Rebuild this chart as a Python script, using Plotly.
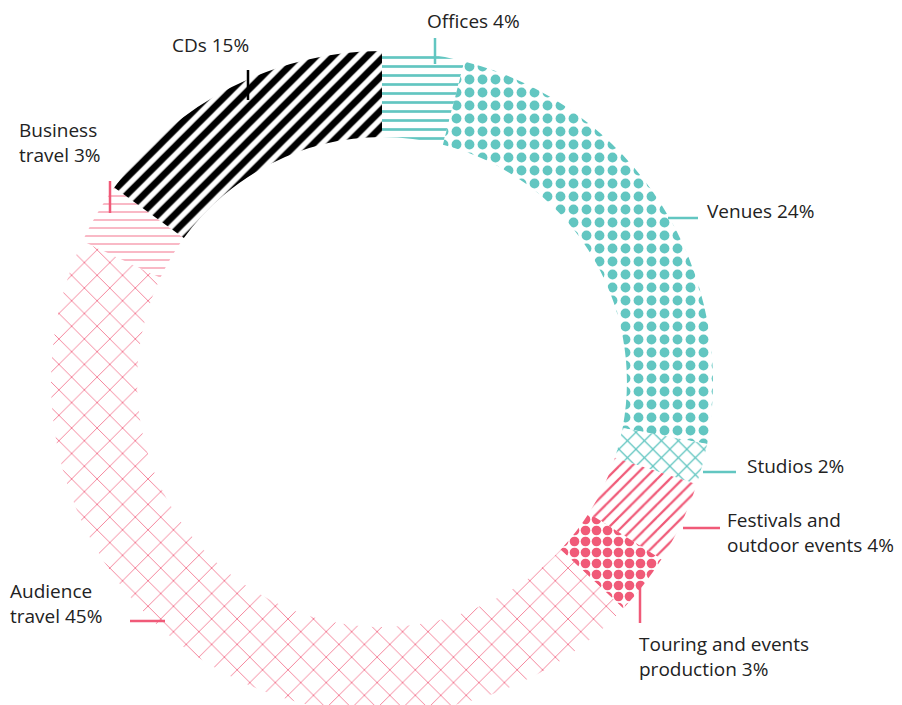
import plotly.graph_objects as go

categories = ["Offices", "Venues", "Studios", "Festivals and outdoor events",
              "Touring and events production", "Audience travel", "Business travel", "CDs"]
values = [4, 24, 2, 4, 3, 45, 3, 15]
label_texts = ["Offices 4%", "Venues 24%", "Studios 2%", "Festivals and<br>outdoor events 4%",
               "Touring and events<br>production 3%", "Audience<br>travel 45%", "Business<br>travel 3%", "CDs 15%"]

TEAL = "#62C6C1"
PINK = "#F05A78"
BLACK = "#000000"
fg_colors = [TEAL, TEAL, TEAL, PINK, PINK, PINK, "#F58AA0", BLACK]
shapes_pat = ["-", ".", "x", "/", ".", "x", "-", "/"]
sizes_pat = [9, 13, 12, 9, 11, 18, 8, 12]
solid_pat = [0.3, 0.45, 0.2, 0.25, 0.6, 0.08, 0.15, 0.55]

W, H = 902, 705
cx, cy, R = 374, 374, 331

fig = go.Figure()
fig.add_trace(go.Pie(
    labels=categories, values=values, sort=False, direction="clockwise", rotation=0,
    hole=0.74, textinfo="none", hoverinfo="label+percent", showlegend=False,
    marker=dict(colors=["white"] * len(values), line=dict(width=0),
                pattern=dict(shape=shapes_pat, fgcolor=fg_colors, bgcolor="white",
                             size=sizes_pat, solidity=solid_pat, fillmode="replace")),
    domain=dict(x=[(cx - R) / W, (cx + R) / W], y=[0, min(1, 2 * R / H)]),
))

# label positions (pixels from top-left) and leader lines
label_pos = [(417, 13), (697, 203), (737, 458), (717, 524), (629, 648), (0, 595), (9, 134), (162, 37)]
leaders = [((427, 30), (427, 56), TEAL), ((660, 210), (690, 210), TEAL), ((695, 464), (728, 464), TEAL),
           ((675, 520), (712, 520), PINK), ((632, 575), (632, 615), PINK), ((122, 613), (157, 613), PINK),
           ((102, 173), (102, 205), PINK), ((240, 62), (240, 92), BLACK)]

def px(x):
    return x / W

def py(y):
    return 1 - y / H

for txt, (x, y) in zip(label_texts, label_pos):
    fig.add_annotation(x=px(x), y=py(y), xref="paper", yref="paper", text=txt, showarrow=False,
                       xanchor="left", yanchor="middle", align="left",
                       font=dict(family="Open Sans", size=19, color="#222222"))

for (x0, y0), (x1, y1), c in leaders:
    fig.add_shape(type="line", xref="paper", yref="paper", x0=px(x0), y0=py(y0), x1=px(x1), y1=py(y1),
                  line=dict(color=c, width=2.5))

fig.update_layout(width=W, height=H, margin=dict(l=0, r=0, t=0, b=0),
                  paper_bgcolor="white", plot_bgcolor="white")
fig.write_html("out.html")
